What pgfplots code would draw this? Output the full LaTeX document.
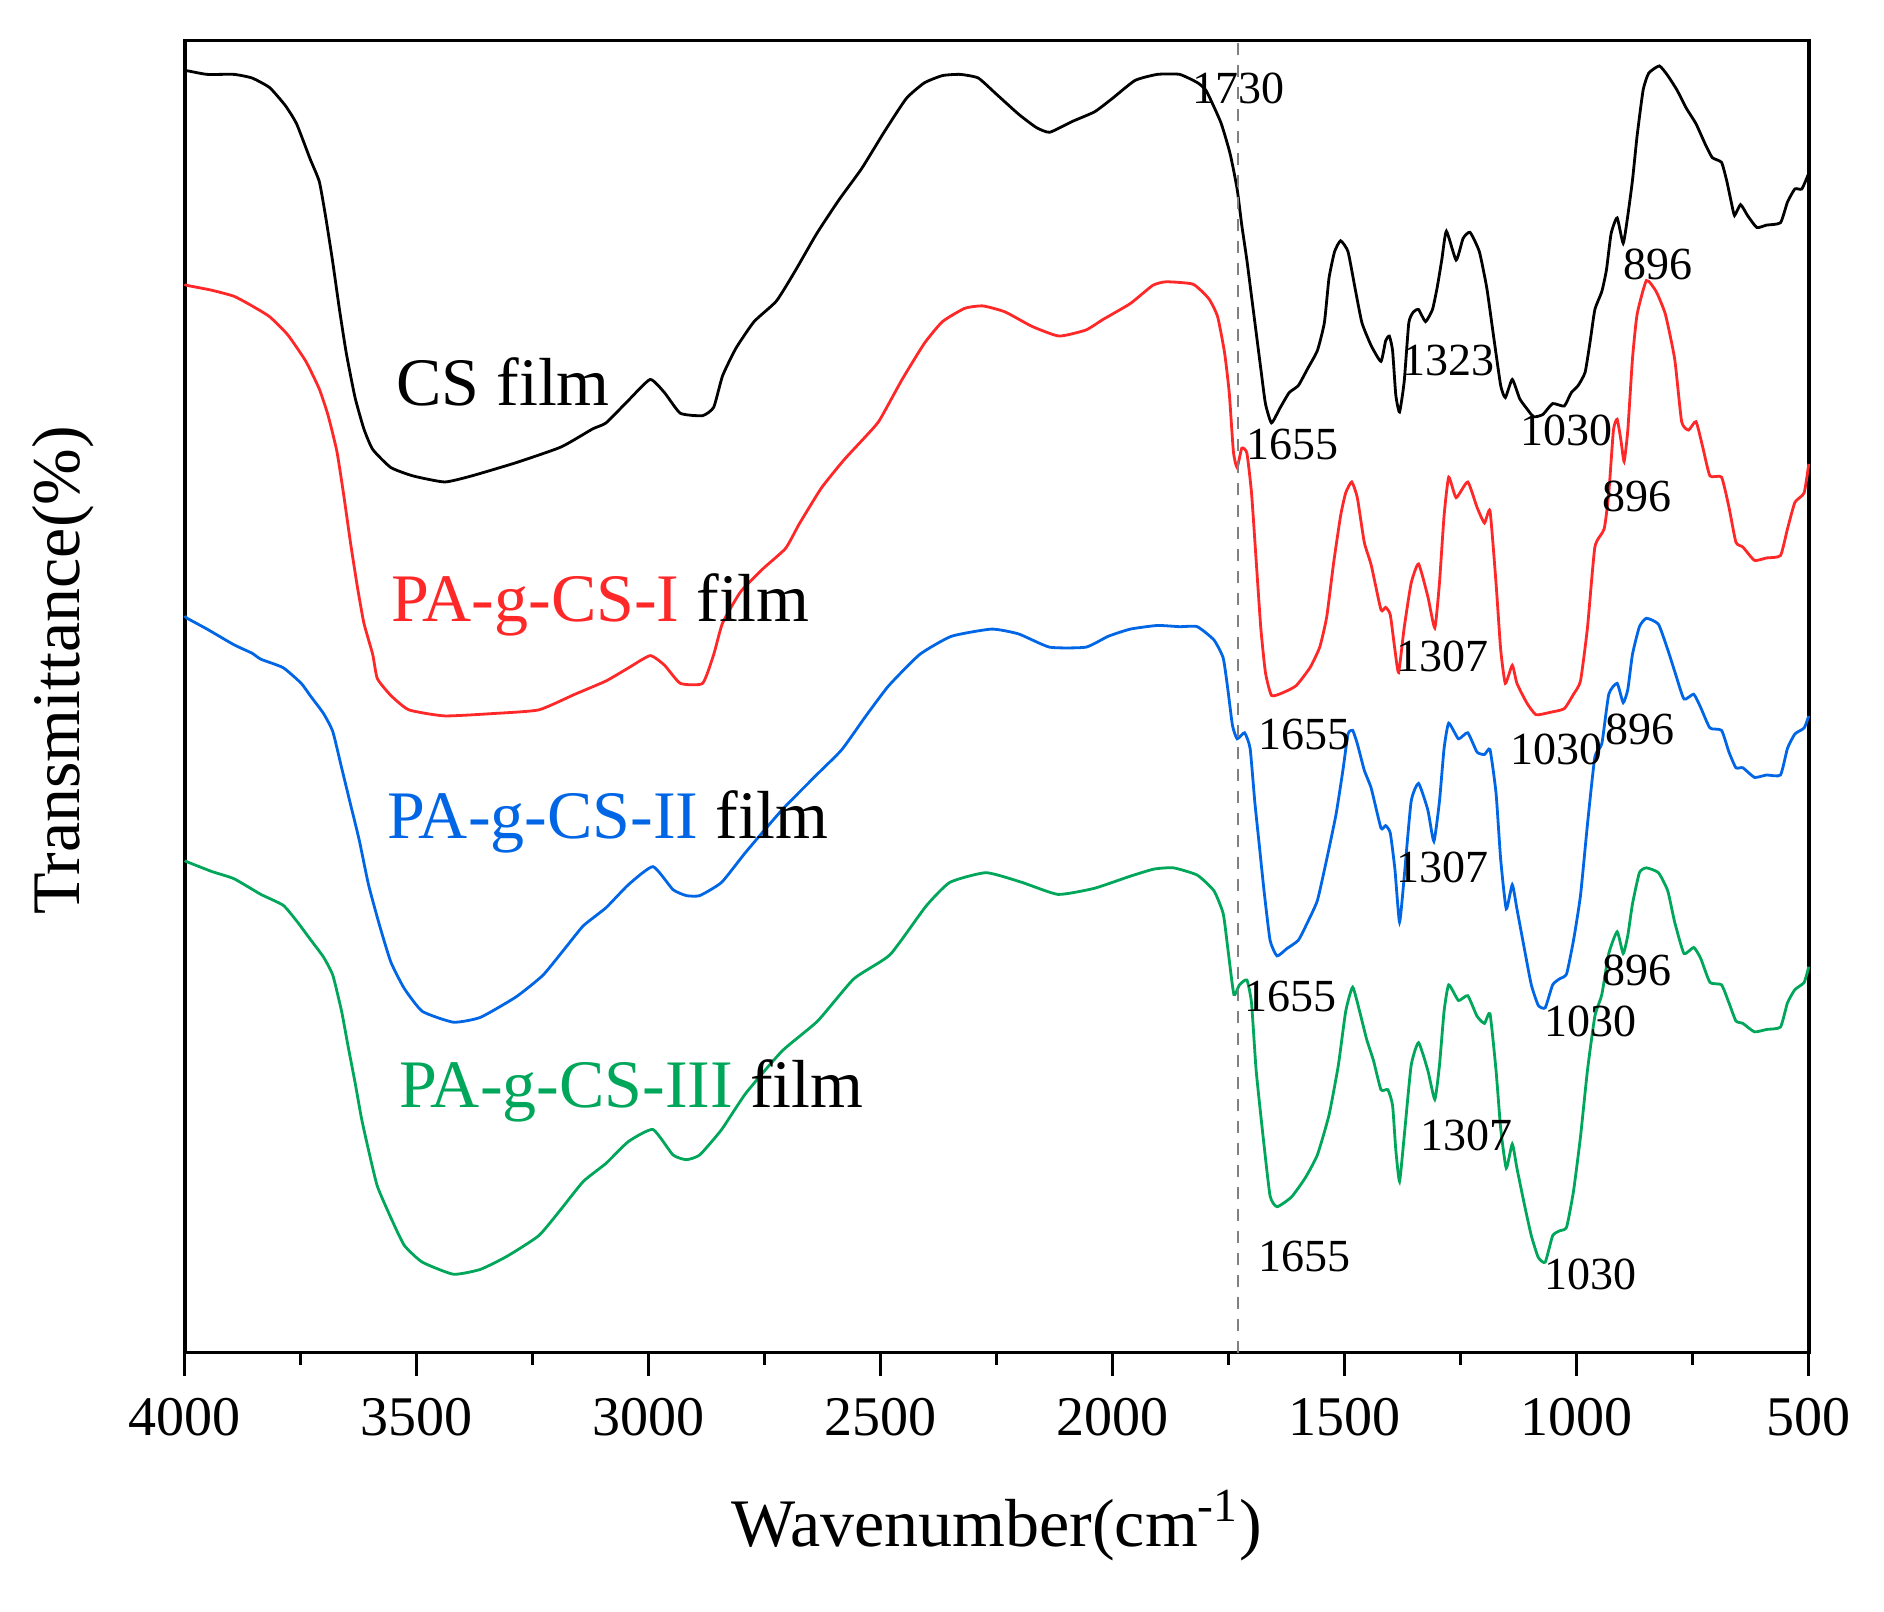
\documentclass[border=0pt]{standalone}
\usepackage{fontspec}
\setmainfont{Liberation Serif}
\usepackage{pgfplots}
\pgfplotsset{compat=1.18}
\definecolor{ftred}{RGB}{255,40,40}
\definecolor{ftblue}{RGB}{0,102,230}
\definecolor{ftgreen}{RGB}{0,166,90}
\newcommand{\lblfont}{\fontsize{11.5}{13}\selectfont}
\newcommand{\bigfont}{\fontsize{17}{19}\selectfont}
\begin{document}
\begin{tikzpicture}
\useasboundingbox (-46.2pt,-64.6pt) rectangle (424.8pt,338.15pt);
\begin{axis}[
  at={(0,0)}, anchor=south west,
  width=406pt, height=328pt, scale only axis,
  xmin=500, xmax=4000, x dir=reverse,
  ymin=0, ymax=1088,
  xtick={500,1000,...,4000}, minor x tick num=1,
  ytick=\empty, xtick pos=left,
  tick align=outside,
  major tick length=5.8pt, minor tick length=3pt,
  every tick/.style={black, line width=0.8pt},
  axis line style={line width=0.9pt},
  /pgf/number format/assume math mode=true,
  /pgf/number format/set thousands separator={},
  xticklabel style={font=\fontsize{14}{16}\selectfont, yshift=-2pt},
  xlabel={Wavenumber(cm\textsuperscript{-1})},
  xlabel style={font=\bigfont, at={(axis description cs:0.5,-0.132)}, anchor=center},
  ylabel={Transmittance(\%)},
  ylabel style={font=\bigfont, at={(axis description cs:-0.075,0.52)}, anchor=center},
  clip=false,
  every axis plot/.append style={line width=0.7pt, smooth, tension=0.3},
]
% CS film
\addplot[black] coordinates {
(4000,1063)(3995,1063)(3952,1060)(3894,1060)(3855,1057)(3817,1049)(3783,1034)(3759,1019)
(3730,990)(3710,971)(3696,941)(3681,904)(3667,866)(3652,829)(3633,792)(3614,766)
(3595,749)(3556,734)(3508,727)(3440,722)(3382,727)(3286,738)(3189,751)(3121,766)
(3092,771)(3043,790)(2997,807)(2966,796)(2932,779)(2884,777)(2860,784)(2841,810)
(2812,833)(2773,855)(2725,872)(2686,896)(2638,928)(2590,956)(2541,982)(2493,1012)
(2445,1040)(2406,1053)(2367,1059)(2329,1060)(2290,1057)(2252,1044)(2203,1027)(2165,1016)
(2136,1012)(2087,1021)(2039,1029)(2001,1040)(1952,1055)(1904,1060)(1856,1060)(1817,1053)
(1798,1046)(1767,1020)(1747,994)(1732,965)(1722,935)(1711,906)(1701,876)(1691,846)
(1681,816)(1671,787)(1658,771)(1640,783)(1620,796)(1600,802)(1580,816)(1559,831)
(1544,854)(1534,891)(1522,913)(1509,922)(1493,913)(1478,883)(1463,854)(1443,835)
(1422,822)(1412,839)(1404,843)(1397,831)(1390,794)(1382,780)(1372,805)(1362,854)
(1352,863)(1341,865)(1326,855)(1311,865)(1301,883)(1291,906)(1281,930)(1260,906)
(1245,924)(1230,929)(1210,913)(1194,883)(1179,842)(1164,802)(1154,792)(1139,807)
(1123,791)(1108,783)(1093,776)(1073,778)(1052,787)(1027,785)(1012,796)(997,802)
(982,813)(971,839)(961,865)(946,880)(936,898)(926,928)(913,941)(900,920)
(890,943)(880,972)(870,1009)(857,1047)(845,1061)(822,1067)(804,1059)(784,1047)
(764,1032)(743,1019)(723,1002)(708,991)(688,987)(677,972)(667,954)(660,943)
(647,952)(632,943)(612,933)(591,935)(561,937)(546,954)(530,965)(515,965)(500,978)
};
% PA-g-CS-I film
\addplot[ftred] coordinates {
(4000,886)(3995,885)(3942,881)(3894,876)(3855,868)(3817,859)(3778,844)(3739,822)(3710,799)
(3691,777)(3672,747)(3657,710)(3643,672)(3628,635)(3614,605)(3595,579)(3585,559)
(3556,545)(3517,533)(3440,528)(3334,530)(3237,533)(3159,546)(3092,557)(3043,568)
(2997,578)(2966,570)(2932,555)(2884,555)(2860,579)(2841,605)(2802,631)(2754,650)
(2705,667)(2676,687)(2628,717)(2580,740)(2532,760)(2503,773)(2454,807)(2406,837)
(2367,855)(2319,866)(2280,868)(2232,863)(2174,851)(2116,843)(2058,848)(2020,857)
(1962,870)(1914,885)(1885,888)(1827,886)(1793,874)(1774,859)(1759,829)(1749,796)
(1740,747)(1732,734)(1722,750)(1711,746)(1701,713)(1691,657)(1681,601)(1671,564)
(1658,545)(1635,547)(1605,553)(1575,568)(1554,585)(1539,610)(1524,655)(1509,694)
(1498,713)(1485,722)(1473,709)(1458,672)(1443,653)(1422,616)(1412,618)(1402,612)
(1392,583)(1384,564)(1372,601)(1357,638)(1341,654)(1321,627)(1306,601)(1296,638)
(1286,694)(1276,726)(1260,709)(1235,722)(1215,701)(1199,688)(1187,698)(1174,638)
(1164,583)(1154,555)(1139,570)(1129,555)(1108,539)(1088,529)(1057,531)(1027,534)
(1007,546)(992,557)(977,601)(961,668)(941,683)(931,713)(921,765)(913,774)
(905,757)(898,739)(890,765)(880,824)(870,861)(850,889)(829,880)(809,861)
(789,824)(774,772)(759,765)(743,772)(728,750)(713,727)(688,726)(672,701)
(657,672)(642,668)(617,657)(591,659)(561,661)(546,683)(530,705)(510,713)(500,737)
};
% PA-g-CS-II film
\addplot[ftblue] coordinates {
(4000,611)(3995,609)(3952,600)(3894,587)(3855,580)(3836,575)(3788,568)(3749,555)(3730,545)
(3701,530)(3681,515)(3662,485)(3643,455)(3624,425)(3604,388)(3580,354)(3556,324)
(3527,302)(3488,283)(3421,274)(3363,278)(3286,295)(3228,313)(3179,336)(3141,354)
(3092,369)(3044,388)(2991,403)(2948,384)(2919,379)(2890,379)(2843,390)(2791,415)
(2713,450)(2636,480)(2584,500)(2532,528)(2483,553)(2416,579)(2348,594)(2261,600)
(2203,596)(2136,585)(2058,585)(2010,594)(1962,600)(1904,603)(1856,602)(1818,602)
(1782,591)(1762,576)(1752,550)(1742,520)(1732,509)(1716,514)(1704,501)(1694,457)
(1684,420)(1674,383)(1661,342)(1646,329)(1625,335)(1600,342)(1580,357)(1559,375)
(1539,409)(1519,446)(1504,483)(1493,513)(1483,516)(1473,505)(1458,483)(1443,468)
(1422,435)(1412,437)(1402,431)(1392,401)(1382,357)(1372,394)(1357,457)(1341,472)
(1321,450)(1308,424)(1296,457)(1286,501)(1276,522)(1255,509)(1235,514)(1215,498)
(1199,496)(1187,500)(1174,464)(1164,409)(1152,368)(1139,388)(1129,368)(1113,335)
(1098,305)(1083,288)(1068,286)(1052,305)(1037,310)(1022,314)(1007,342)(992,379)
(977,438)(961,494)(946,505)(931,546)(913,555)(900,539)(890,550)(880,579)
(865,602)(850,609)(824,604)(804,583)(789,565)(769,542)(748,546)(733,535)
(713,518)(688,516)(672,498)(657,485)(642,485)(617,477)(591,479)(561,479)
(546,501)(530,513)(510,518)(500,528)
};
% PA-g-CS-III film
\addplot[ftgreen] coordinates {
(4000,408)(3995,407)(3942,399)(3894,393)(3836,380)(3788,371)(3759,358)(3730,343)(3701,328)
(3681,313)(3662,283)(3648,254)(3633,224)(3619,194)(3604,168)(3585,138)(3556,112)
(3527,89)(3488,75)(3421,65)(3363,69)(3305,80)(3237,97)(3189,119)(3141,142)
(3092,157)(3044,175)(2991,185)(2948,164)(2919,160)(2890,164)(2843,185)(2791,215)
(2713,250)(2636,275)(2558,310)(2480,330)(2403,370)(2351,390)(2273,398)(2196,390)
(2118,380)(2040,385)(1963,395)(1911,401)(1869,402)(1818,396)(1782,383)(1762,364)
(1752,335)(1739,297)(1727,305)(1711,309)(1701,290)(1691,234)(1676,179)(1661,130)
(1646,121)(1615,129)(1585,145)(1559,164)(1534,197)(1514,238)(1498,283)(1483,303)
(1468,283)(1453,260)(1438,242)(1422,218)(1407,218)(1397,205)(1390,168)(1382,142)
(1372,179)(1357,238)(1341,257)(1321,234)(1306,210)(1296,238)(1286,283)(1276,305)
(1255,292)(1235,296)(1215,279)(1199,273)(1187,281)(1174,234)(1164,186)(1152,153)
(1139,173)(1129,153)(1113,123)(1098,97)(1083,79)(1068,75)(1052,97)(1037,101)
(1022,104)(1007,134)(992,179)(977,234)(961,279)(946,297)(931,331)(913,349)
(900,331)(890,346)(880,372)(865,398)(850,402)(824,398)(804,383)(789,357)
(769,331)(748,336)(733,327)(713,307)(688,305)(672,290)(657,275)(642,273)
(617,266)(591,268)(561,270)(546,290)(530,301)(510,307)(500,320)
};
\draw[gray, dash pattern=on 3pt off 2.5pt, line width=0.4pt] (axis cs:1730,0) -- (axis cs:1730,1088);
% series names
\node[font=\bigfont] at (axis cs:3314,805) {CS film};
\node[font=\bigfont, anchor=west] at (axis cs:3586,620) {\textcolor{ftred}{PA-g-CS-I} film};
\node[font=\bigfont, anchor=west] at (axis cs:3594,440) {\textcolor{ftblue}{PA-g-CS-II} film};
\node[font=\bigfont, anchor=west] at (axis cs:3568,217) {\textcolor{ftgreen}{PA-g-CS-III} film};
% peak positions
\node[font=\lblfont] at (axis cs:1730,1048) {1730};
\node[font=\lblfont] at (axis cs:824,902) {896};
\node[font=\lblfont] at (axis cs:1277,823) {1323};
\node[font=\lblfont] at (axis cs:1613,753) {1655};
\node[font=\lblfont] at (axis cs:1023,765) {1030};
\node[font=\lblfont] at (axis cs:870,710) {896};
\node[font=\lblfont] at (axis cs:1290,577) {1307};
\node[font=\lblfont] at (axis cs:1587,513) {1655};
\node[font=\lblfont] at (axis cs:1044,500) {1030};
\node[font=\lblfont] at (axis cs:863,517) {896};
\node[font=\lblfont] at (axis cs:1290,402) {1307};
\node[font=\lblfont] at (axis cs:1618,295) {1655};
\node[font=\lblfont] at (axis cs:971,275) {1030};
\node[font=\lblfont] at (axis cs:870,317) {896};
\node[font=\lblfont] at (axis cs:1238,180) {1307};
\node[font=\lblfont] at (axis cs:1587,80) {1655};
\node[font=\lblfont] at (axis cs:971,65) {1030};
\end{axis}
\end{tikzpicture}
\end{document}
